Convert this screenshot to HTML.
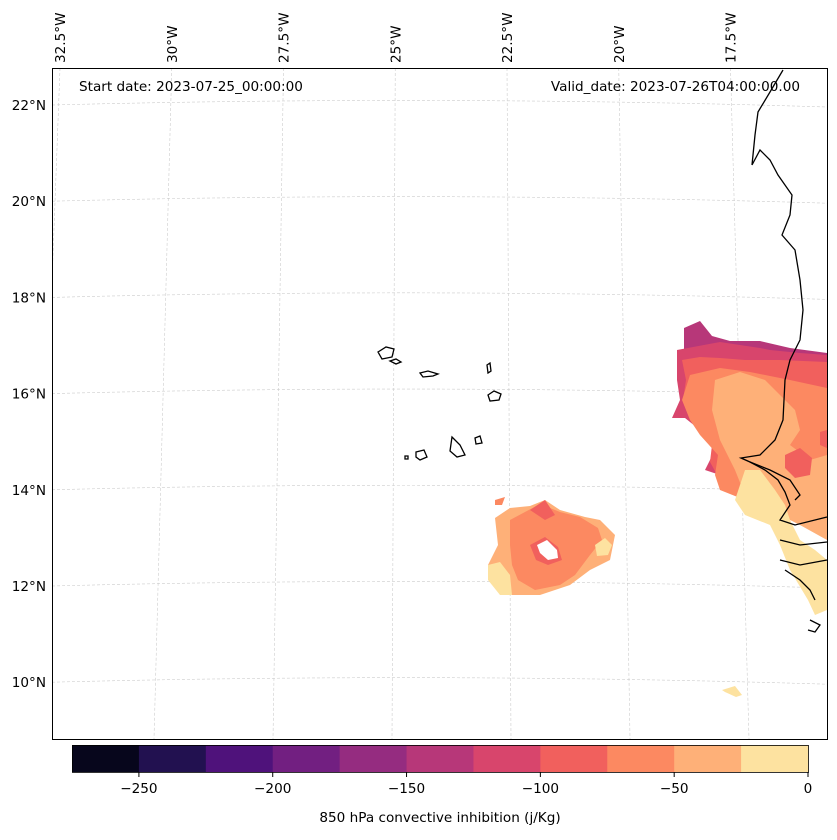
<!DOCTYPE html>
<html><head><meta charset="utf-8"><style>
body{margin:0;background:#fff;font-family:"DejaVu Sans",sans-serif}
svg text{font-family:"DejaVu Sans",sans-serif;fill:#000}
</style></head><body>
<svg width="837" height="836" viewBox="0 0 837 836">
<defs><clipPath id="frame"><rect x="52" y="68" width="776" height="672"/></clipPath></defs>
<g id="grid" clip-path="url(#frame)"></g>
<g>
 <polygon fill="#b73779" points="684,328 700,321 712,336 730,341 760,341 790,348 827,353 827,370 700,362 684,355"/>
 <polygon fill="#d8456c" points="677,350 720,342 760,348 770,350 800,353 827,355 827,450 790,470 760,462 740,455 720,475 705,470 715,450 700,430 685,418 672,418 680,400 677,380"/>
 <polygon fill="#f1605d" points="682,360 700,357 720,358 745,360 780,360 827,362 827,440 800,470 760,468 740,480 720,480 710,462 712,445 690,420 683,400 686,380"/>
 <polygon fill="#fc8961" points="690,375 720,368 750,372 790,380 827,388 827,520 800,522 780,512 760,510 745,500 720,490 715,475 718,455 700,435 690,420 682,400"/>
 <polygon fill="#feb078" points="715,380 740,372 765,380 780,395 795,410 800,430 790,445 810,460 827,455 827,540 800,525 780,515 760,505 745,495 735,470 720,440 712,410"/>
 <polygon fill="#fde2a0" points="745,470 760,470 775,490 785,505 790,520 800,540 815,550 827,560 827,610 815,615 808,600 790,570 780,545 770,525 745,515 735,500 740,485"/>
 <polygon fill="#f1605d" points="785,455 800,448 812,458 810,475 795,478 785,468"/>
 <polygon fill="#f1605d" points="820,432 827,430 827,448 820,445"/>
 <polygon fill="#feb078" points="495,518 510,508 530,506 545,500 560,510 585,517 600,520 615,535 610,560 590,570 570,585 540,595 510,595 492,580 488,565 498,545"/>
 <polygon fill="#fc8961" points="510,520 540,504 560,512 580,517 598,528 602,540 590,555 575,575 560,585 535,590 518,580 512,565 510,545"/>
 <polygon fill="#f1605d" points="530,510 545,500 555,515 545,520"/>
 <polygon fill="#f1605d" points="530,545 545,537 558,547 562,560 548,565 536,560"/>
 <polygon fill="#fff" points="537,545 547,540 557,550 558,558 548,560 540,553"/>
 <polygon fill="#fde2a0" points="488,565 500,562 510,575 512,595 500,595 488,580"/>
 <polygon fill="#fde2a0" points="595,545 605,538 612,545 608,555 597,556"/>
 <polygon fill="#fc8961" points="495,500 505,497 502,505 495,505"/>
 <polygon fill="#fde2a0" points="722,690 735,686 742,695 736,697 725,692"/>
</g>
<g fill="none" stroke="#000" stroke-width="1.3">
 <polyline points="783,70 770,92 758,112 755,135 752,165 760,150 770,160 778,175 792,195 790,215 782,235 795,250 800,280 803,310 800,340 790,360 785,380 783,420 775,440 760,455 741,458 750,462 765,470 778,480 785,492 790,505 780,520 795,525 827,517"/>
 <polyline points="750,462 770,470 790,480 800,495 795,500"/>
 <polyline points="780,540 800,545 827,542"/>
 <polyline points="780,560 800,565 827,560"/>
 <polyline points="785,570 800,580 810,590 815,600"/>
 <polyline points="810,620 820,625 815,632 808,630"/>
 <path d="M378,352 l8,-5 8,2 -2,8 -10,2z M390,361 l6,-2 5,3 -5,2z M420,373 l8,-2 10,3 -5,2 -10,1z M487,365 l3,-2 1,8 -3,2z M488,395 l6,-4 7,3 -2,6 -9,1z M452,437 l8,8 5,10 -8,2 -7,-6z M475,438 l5,-2 2,7 -6,1z M416,452 l8,-2 3,7 -7,3 -4,-3z M405,456 l3,0 0,3 -3,0z"/>
</g>
<rect x="52.5" y="68.5" width="775" height="671" fill="none" stroke="#000"/>
<text x="79" y="91" font-size="13.6">Start date: 2023-07-25_00:00:00</text>
<text x="800" y="91" font-size="13.6" text-anchor="end">Valid_date: 2023-07-26T04:00:00.00</text>
<g id="labels"></g>
<g id="cbar"></g>
<text x="440" y="822" font-size="13.6" text-anchor="middle">850 hPa convective inhibition (j/Kg)</text>
</svg>
<script>
const levels=[-275,-250,-225,-200,-175,-150,-125,-100,-75,-50,-25,0];
const colors=["#07061c","#221150","#4f127b","#721f81","#952c80","#b73779","#d8456c","#f1605d","#fc8961","#feb078","#fde2a0"];
const cbTicks=[-250,-200,-150,-100,-50,0];
const lats=[22,20,18,16,14,12,10];
const lons=[-32.5,-30,-27.5,-25,-22.5,-20,-17.5];
const NS="http://www.w3.org/2000/svg";
function mk(t,a,p){const e=document.createElementNS(NS,t);for(const k in a)e.setAttribute(k,a[k]);p.appendChild(e);return e;}
const yLat=v=>105+(22-v)*48.1;
const xTop=v=>507+(v+22.5)*44.7;
const xBot=v=>511+(v+22.5)*47.6;
const grid=document.getElementById('grid'),labels=document.getElementById('labels');
lats.forEach(v=>{const y=yLat(v);
 const l=mk('path',{d:`M52,${y} Q440,${y-10} 827,${y+2}`,stroke:'#ccc','stroke-width':0.6,'stroke-dasharray':'3,2',fill:'none'},grid);
 
 const t=mk('text',{x:46,y:y+5,'font-size':13.6,'text-anchor':'end'},labels);t.textContent=v+'°N';
 });
lons.forEach(v=>{const x0=xTop(v),x1=xBot(v);
 const l=mk('line',{x1:x0,y1:68,x2:x1,y2:739,stroke:'#ccc','stroke-width':0.6,'stroke-dasharray':'3,2'},grid);
 
 const t=mk('text',{x:0,y:0,'font-size':13.6,transform:`translate(${x0+5},63) rotate(-90)`},labels);t.textContent=Math.abs(v)+'°W';
 });
const cb=document.getElementById('cbar');
const cx=v=>72+(v-levels[0])/(levels[levels.length-1]-levels[0])*736;
colors.forEach((c,i)=>{const r=mk('rect',{x:cx(levels[i]),y:745,width:cx(levels[i+1])-cx(levels[i])+0.5,height:27,fill:c},cb);
 });
mk('rect',{x:72.5,y:745.5,width:736,height:27,fill:'none',stroke:'#000','stroke-width':0.8},cb);
cbTicks.forEach(v=>{const x=cx(v);mk('line',{x1:x,y1:772,x2:x,y2:777,stroke:'#000'},cb);
 const t=mk('text',{x:x,y:793,'font-size':13.6,'text-anchor':'middle'},cb);t.textContent=v<0?'−'+Math.abs(v):v;
 });
</script>
</body></html>
